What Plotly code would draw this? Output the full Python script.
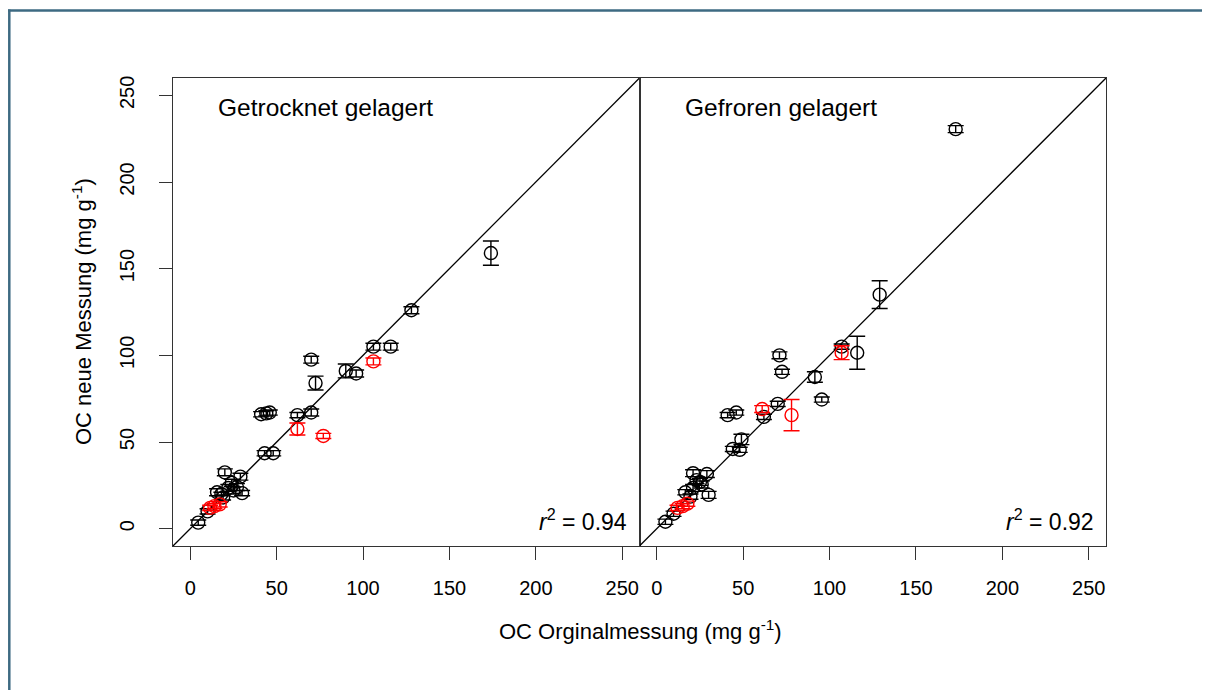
import plotly.graph_objects as go

# Getrocknet gelagert (left panel)
dry_x = [174, 128, 106, 116, 90, 96, 70, 72.5, 41, 44, 46, 62, 70, 43, 48,
         20, 29, 24, 27, 22, 15.5, 30, 19, 10, 4.6, 25, 18]
dry_y = [159, 126, 105, 105, 91, 89.5, 97.5, 84, 66, 66.5, 67, 65.5, 67, 43.5, 43.5,
         32.5, 30, 26.5, 24, 23.5, 21, 20.5, 18, 10, 3.5, 22, 20]
dry_err = [7, 2, 2, 2, 4, 2, 2, 4, 1.5, 1.5, 1.5, 1.5, 2, 1.5, 1.5,
           2, 2, 2, 2, 2, 2, 1.5, 1.5, 1.5, 1.5, 2, 1]
dry_red_x = [106, 62, 77, 11.5, 14, 17]
dry_red_y = [96.5, 57.5, 53.5, 12, 13, 14]
dry_red_err = [2, 3.5, 1.5, 1.5, 1.5, 1.5]

# Gefroren gelagert (right panel)
frz_x = [173, 129, 116, 107, 71, 72.5, 91.5, 95.5, 70, 62, 41, 46, 49, 44, 48,
         21, 29, 23, 26, 30, 16.5, 21, 19.5, 9.7, 5, 25]
frz_y = [230.5, 135, 101.5, 105, 100, 90.5, 87.5, 74.5, 72, 64.5, 65.5, 67, 51.5, 46, 45.5,
         32, 31.5, 28, 25.5, 19.5, 21, 23.5, 18.5, 8.6, 4, 27]
frz_err = [2, 8, 9.5, 1.5, 2, 1.5, 3, 1.5, 1.5, 1.5, 1.5, 1.5, 3, 1.5, 1.5,
           2, 2, 2, 2, 2, 1.5, 2, 1.5, 1.5, 1.5, 2]
frz_red_x = [61, 78, 107, 12, 15, 17.7]
frz_red_y = [69, 65.5, 101.5, 12, 13, 14.4]
frz_red_err = [2, 9, 4, 1.5, 1.5, 1.5]

tick_vals = [0, 50, 100, 150, 200, 250]
ax_range = [-10, 260]
panel_labels = ["Getrocknet gelagert", "Gefroren gelagert"]
r2_labels = ["<i>r</i><sup>2</sup> = 0.94", "<i>r</i><sup>2</sup> = 0.92"]

# page has an 8px body margin, so the figure is 8px smaller and coords are shifted
OFF = 8
W, H = 1210 - OFF, 690 - OFF
L, T = 173 - OFF, 78 - OFF
R, B = W - (1106 - OFF), H - (546 - OFF)
pw, ph = W - L - R, H - T - B


def px(x):
    return (x - OFF - L) / pw


def py(y):
    return (H - B - (y - OFF)) / ph


def pts(x, y, err, color, xa, ya):
    return go.Scatter(
        x=x, y=y, mode="markers", xaxis=xa, yaxis=ya, showlegend=False,
        marker=dict(symbol="circle-open", size=13, color=color, line=dict(width=1.4)),
        error_y=dict(type="data", array=err, color=color, thickness=1.4, width=8),
    )


fig = go.Figure()
for xa, ya, bx, by, be, rx, ry, re in [
    ("x", "y", dry_x, dry_y, dry_err, dry_red_x, dry_red_y, dry_red_err),
    ("x2", "y2", frz_x, frz_y, frz_err, frz_red_x, frz_red_y, frz_red_err),
]:
    fig.add_trace(go.Scatter(x=ax_range, y=ax_range, mode="lines", xaxis=xa, yaxis=ya,
                             showlegend=False, line=dict(color="black", width=1.3)))
    fig.add_trace(pts(bx, by, be, "black", xa, ya))
    fig.add_trace(pts(rx, ry, re, "#ff0000", xa, ya))

axis_common = dict(range=ax_range, showgrid=False, zeroline=False, showline=True,
                   mirror=True, linecolor="#333", linewidth=1.2)
tick_common = dict(tickvals=tick_vals, ticks="outside", ticklen=13, tickwidth=1.2,
                   tickcolor="#333", tickfont=dict(family="Liberation Sans", size=20, color="black"))

fig.update_layout(
    width=W, height=H,
    margin=dict(l=L, r=R, t=T, b=B),
    paper_bgcolor="white", plot_bgcolor="white",
    xaxis=dict(domain=[0, 0.5], anchor="y", ticklabelstandoff=11, **axis_common, **tick_common),
    xaxis2=dict(domain=[0.5, 1], anchor="y2", ticklabelstandoff=11, **axis_common, **tick_common),
    yaxis=dict(domain=[0, 1], anchor="x", tickangle=-90, ticklabelstandoff=17,
               **axis_common, **tick_common),
    yaxis2=dict(domain=[0, 1], anchor="x2", showticklabels=False, ticks="", **axis_common),
)

ann = []
for i, xr in enumerate(["x", "x2"]):
    yr = "y" if i == 0 else "y2"
    ann.append(dict(x=15, y=243, xref=xr, yref=yr, text=panel_labels[i], showarrow=False,
                    xanchor="left", yanchor="middle",
                    font=dict(family="Liberation Sans", size=24.5, color="black")))
    ann.append(dict(x=254, y=5, xref=xr, yref=yr, text=r2_labels[i], showarrow=False,
                    xanchor="right", yanchor="middle",
                    font=dict(family="Liberation Sans", size=23, color="black")))
ann.append(dict(x=px(640), y=py(630), xref="paper", yref="paper", showarrow=False,
                text="OC Orginalmessung (mg g<sup>-1</sup>)", xanchor="center", yanchor="middle",
                font=dict(family="Liberation Sans", size=22, color="black")))
ann.append(dict(x=px(82), y=py(312), xref="paper", yref="paper", showarrow=False, textangle=-90,
                text="OC neue Messung (mg g<sup>-1</sup>)", xanchor="center", yanchor="middle",
                font=dict(family="Liberation Sans", size=22, color="black")))
fig.update_layout(annotations=ann)

# outer frame (top and left edges)
frame = "#3d6a82"
fig.add_shape(type="line", xref="paper", yref="paper", x0=px(8), x1=px(1215), y0=py(10.5), y1=py(10.5),
              line=dict(color=frame, width=2.5))
fig.add_shape(type="line", xref="paper", yref="paper", x0=px(9.3), x1=px(9.3), y0=py(9.5), y1=py(700),
              line=dict(color=frame, width=2.5))

fig.write_html("out.html")
